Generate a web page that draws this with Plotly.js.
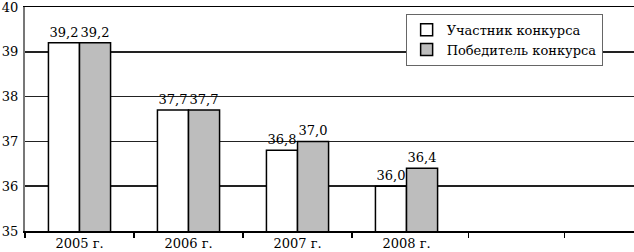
<!DOCTYPE html>
<html><head><meta charset="utf-8">
<script src="https://cdn.plot.ly/plotly-3.0.1.min.js"></script>
<style>html,body{margin:0;padding:0;background:#fff}#c{width:634px;height:252px}</style>
</head><body><div id="c"></div>
<script>
const categories = ['2005 г.', '2006 г.', '2007 г.', '2008 г.'];
const participant = [39.2, 37.7, 36.8, 36.0];
const winner = [39.2, 37.7, 37.0, 36.4];
const seriesNames = ['Участник конкурса', 'Победитель конкурса'];
const yTicks = [35, 36, 37, 38, 39, 40];

const xs = categories.map((_, i) => i);
const font = {family: 'DejaVu Serif, serif', size: 13, color: '#000'};

const traces = [
  {type: 'bar', name: seriesNames[0], x: xs, y: participant,
   marker: {color: '#ffffff', line: {color: '#000', width: 1.5}},
   texttemplate: '%{y:.1f}', textposition: 'outside', textfont: font, cliponaxis: false},
  {type: 'bar', name: seriesNames[1], x: xs, y: winner,
   marker: {color: '#bdbdbd', line: {color: '#000', width: 1.5}},
   texttemplate: '%{y:.1f}', textposition: 'outside', textfont: font, cliponaxis: false}
];

const layout = {
  width: 634, height: 252,
  margin: {l: 25, r: 0, t: 7, b: 21},
  paper_bgcolor: '#fff', plot_bgcolor: '#fff',
  separators: ', ',
  font: font,
  barmode: 'group', bargap: 0.43, bargroupgap: 0,
  showlegend: true,
  legend: {x: 0.625, y: 0.97, xanchor: 'left', yanchor: 'top',
    bgcolor: '#fff', bordercolor: '#666', borderwidth: 1,
    font: font, tracegroupgap: 0, itemwidth: 30},
  xaxis: {range: [-0.5, 5.087], tickmode: 'array', tickvals: xs, ticktext: categories,
    ticks: '', showgrid: false, zeroline: false,
    showline: true, mirror: true, linecolor: '#000', linewidth: 1.5,
    tickfont: font,
    minor: {tickmode: 'array', tickvals: [-0.5, 0.5, 1.5, 2.5, 3.57, 4.45],
      ticks: 'outside', ticklen: 5, tickwidth: 1.5, tickcolor: '#000', showgrid: false}},
  yaxis: {range: [35, 40], tickmode: 'array', tickvals: yTicks,
    ticks: '', showgrid: true, gridcolor: '#222', gridwidth: 1.5,
    showline: true, linecolor: '#777', linewidth: 2, zeroline: false,
    tickfont: font, ticklabelstandoff: 2, ticklabeloverflow: 'allow'}
};

Plotly.newPlot('c', traces, layout, {displayModeBar: false, staticPlot: true});
</script></body></html>
